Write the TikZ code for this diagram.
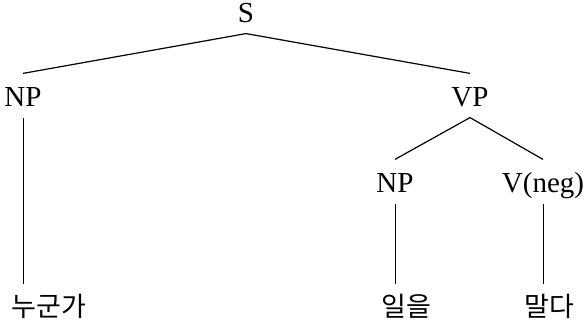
\documentclass[tikz,border=0pt]{standalone}
\usepackage{fontspec}
\setmainfont{Liberation Serif}
\newfontfamily\korfont{Noto Sans CJK KR}
\usepackage{tikz}
\usetikzlibrary{positioning}

\begin{document}
\begin{tikzpicture}[x=1pt, y=1pt, line width=1.2pt,
  catlabel/.style={anchor=base, inner sep=0pt, text height=33pt, text depth=10pt, font=\fontsize{29}{34}\selectfont},
  wordlabel/.style={anchor=base, inner sep=0pt, text height=32pt, text depth=0pt, font=\korfont\fontsize{27}{32}\selectfont}]
\useasboundingbox (0,0) rectangle (584,326);

% Category labels
\node[catlabel] (s) at (246,303) {S};
\node[catlabel] (np1) at (23,219) {NP};
\node[catlabel] (vp) at (470,219) {VP};
\node[catlabel] (np2) at (395,133) {NP};
\node[catlabel] (vneg) at (543,133) {V(neg)};

% Words
\node[wordlabel] (w1) at (49,9) {누군가};
\node[wordlabel] (w2) at (406,9) {일을};
\node[wordlabel] (w3) at (549,9) {말다};

% Branches
\draw (s.south) -- (np1.north);
\draw (s.south) -- (vp.north);
\draw (vp.south) -- (np2.north);
\draw (vp.south) -- (vneg.north);

% Lexical lines
\draw[line width=1pt] (np1.south) -- (np1.south |- w1.north);
\draw[line width=1pt] (np2.south) -- (np2.south |- w2.north);
\draw[line width=1pt] (vneg.south) -- (vneg.south |- w3.north);

\end{tikzpicture}
\end{document}
